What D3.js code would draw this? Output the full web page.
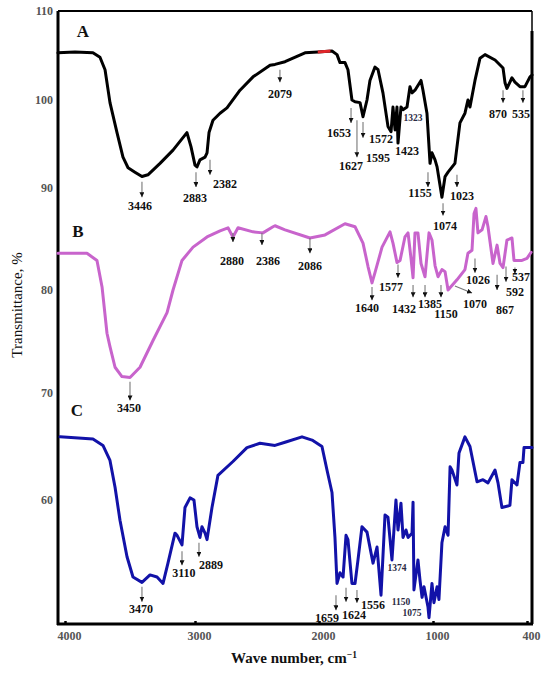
<!DOCTYPE html>
<html>
<head>
  <meta charset="utf-8">
  <title>FTIR spectra A, B, C</title>
  <script src="https://cdn.jsdelivr.net/npm/d3@7"></script>
  <style>
    body { margin: 0; background: #fff; }
    svg { font-family: "Liberation Serif", "Times New Roman", serif; }
  </style>
</head>
<body>
<div id="chart"></div>
<script>
  // spectra: [wave number, transmittance]
  const spectrumA = [[4054,105.3],[3923,105.4],[3785,105.3],[3731,104.8],[3692,103.4],[3654,99.7],[3600,96.3],[3554,93.5],[3515,92.3],[3462,91.8],[3408,91.3],[3362,91.5],[3269,92.8],[3169,94.3],[3062,96.3],[3031,94.7],[3000,92.6],[2984,92.4],[2960,93.2],[2919,93.5],[2903,94.0],[2887,96.3],[2855,97.7],[2798,98.5],[2742,99.1],[2637,101.1],[2532,102.6],[2395,103.9],[2355,104.0],[2274,104.3],[2113,105.3],[2008,105.4],[1886,105.5],[1842,105.1],[1816,104.2],[1772,104.2],[1746,103.4],[1711,100.0],[1684,99.8],[1640,99.7],[1614,98.1],[1579,100.0],[1553,102.2],[1509,103.7],[1482,103.4],[1439,100.8],[1395,97.0],[1368,96.4],[1351,99.2],[1333,96.6],[1316,99.2],[1307,95.1],[1281,99.2],[1263,98.9],[1228,99.2],[1202,101.5],[1184,100.8],[1158,101.1],[1105,102.2],[1088,101.1],[1053,98.5],[1026,92.8],[1009,94.0],[987,93.2],[974,92.4],[943,89.1],[923,91.3],[904,91.8],[860,92.8],[828,97.4],[796,98.5],[777,100.0],[764,99.2],[732,102.2],[700,104.7],[668,105.1],[604,104.5],[553,103.6],[540,101.9],[528,101.3],[496,102.5],[477,102.0],[445,101.5],[413,101.5],[381,102.6],[368,102.8]]

  const spectrumB = [[4054,83.6],[3831,83.6],[3754,82.9],[3715,80.3],[3677,75.8],[3654,74.5],[3615,72.5],[3562,71.6],[3500,71.5],[3423,72.5],[3323,75.1],[3215,77.8],[3169,80.0],[3100,82.9],[3015,84.2],[2903,85.2],[2798,85.8],[2734,86.1],[2694,85.2],[2653,86.1],[2532,85.7],[2452,85.6],[2371,86.2],[2355,86.3],[2274,85.9],[2073,85.1],[1947,85.4],[1772,86.5],[1684,86.2],[1614,84.6],[1570,82.3],[1535,80.7],[1509,81.7],[1447,84.2],[1377,85.7],[1351,84.6],[1316,82.7],[1289,82.9],[1246,85.2],[1219,85.6],[1193,83.1],[1175,81.2],[1158,85.6],[1132,85.6],[1105,82.6],[1070,81.3],[1035,85.6],[1009,84.9],[987,82.4],[968,81.3],[943,82.0],[923,81.8],[904,80.0],[847,81.0],[796,82.0],[777,83.6],[751,83.9],[738,87.5],[726,88.0],[713,85.6],[687,85.9],[662,87.2],[649,86.2],[617,82.6],[591,84.4],[572,82.6],[553,82.2],[528,84.9],[496,85.1],[483,82.9],[432,82.9],[400,83.1],[374,83.7]]

  const spectrumC = [[4038,65.9],[3785,65.7],[3708,65.1],[3654,63.7],[3615,61.2],[3577,58.1],[3523,54.7],[3477,52.8],[3408,52.3],[3346,53.0],[3292,52.8],[3246,52.2],[3208,54.1],[3154,56.9],[3138,56.7],[3100,55.8],[3077,59.3],[3038,60.2],[3008,60.0],[2984,57.5],[2960,56.5],[2944,57.5],[2919,56.9],[2903,56.3],[2863,59.3],[2815,62.3],[2694,63.6],[2581,64.9],[2476,65.3],[2355,65.1],[2274,65.4],[2137,65.9],[2056,65.6],[1974,65.0],[1930,62.8],[1886,60.7],[1860,56.5],[1842,52.2],[1816,53.2],[1789,52.8],[1763,56.7],[1746,56.3],[1711,52.2],[1684,52.2],[1658,54.4],[1623,57.5],[1579,57.0],[1526,54.1],[1491,55.6],[1456,51.1],[1421,58.6],[1395,58.4],[1360,54.4],[1325,60.0],[1307,57.2],[1281,59.7],[1263,56.5],[1237,57.2],[1219,56.5],[1184,56.9],[1175,59.8],[1167,51.6],[1132,54.4],[1114,52.5],[1096,50.9],[1079,51.9],[1044,50.0],[1035,49.0],[1009,52.2],[994,50.4],[974,51.9],[962,50.7],[943,56.0],[923,57.5],[904,56.7],[891,63.1],[879,62.8],[847,61.4],[834,64.4],[796,65.9],[764,65.0],[719,61.7],[681,61.9],[649,61.6],[604,62.8],[585,61.6],[560,59.3],[509,59.5],[496,61.9],[464,61.4],[445,63.5],[426,63.5],[419,64.9],[368,64.9]]

  // peak labels: arrow from (w, t0) to (w1 or w, t1), text at (lw, lt)
  const peaksA = [
    {text:"3446", w:3408, t0:90.7, t1:89.1, lw:3423, lt:87.8},
    {text:"2883", w:2992, t0:91.8, t1:90.1, lw:3000, lt:88.6},
    {text:"2382", w:2879, t0:93.2, t1:91.5, lw:2758, lt:90.0},
    {text:"2079", w:2315, t0:103.4, t1:102.0, lw:2315, lt:100.2},
    {text:"1653", w:1719, t0:99.1, t1:97.4, lw:1825, lt:95.8},
    {text:"1627", w:1667, t0:97.7, t1:93.5, lw:1719, lt:92.0},
    {text:"1595", w:1614, t0:97.5, t1:95.7, lw:1482, lt:93.0},
    {text:"1572", lw:1456, lt:95.1},
    {text:"1423", lw:1228, lt:93.75},
    {text:"1323", lw:1175, lt:97.6, small:true},
    {text:"1155", w:1044, t0:91.8, t1:90.1, lw:1114, lt:89.1},
    {text:"1023", w:847, t0:91.5, t1:90.1, lw:815, lt:88.8},
    {text:"1074", w:936, t0:88.5, t1:87.3, lw:923, lt:85.9},
    {text:"870", w:553, t0:101.1, t1:99.7, lw:585, lt:97.95},
    {text:"535", w:426, t0:101.1, t1:99.7, lw:438, lt:97.95}
  ]

  const peaksB = [
    {text:"3450", w:3500, t0:71.1, t1:69.3, lw:3508, lt:68.2},
    {text:"2880", w:2694, t0:85.6, t1:84.7, lw:2702, lt:82.5},
    {text:"2386", w:2460, t0:85.6, t1:84.4, lw:2411, lt:82.5},
    {text:"2086", w:2073, t0:85.1, t1:83.6, lw:2073, lt:82.0},
    {text:"1640", w:1535, t0:80.3, t1:79.0, lw:1579, lt:77.9},
    {text:"1577", w:1307, t0:82.5, t1:81.2, lw:1368, lt:79.9},
    {text:"1432", w:1175, t0:80.5, t1:79.3, lw:1254, lt:77.8},
    {text:"1385", w:1070, t0:80.5, t1:79.3, lw:1026, lt:78.3},
    {text:"1150", w:949, t0:80.5, t1:79.3, lw:917, lt:77.3},
    {text:"1070", w:860, w1:751, t0:80.4, t1:79.7, lw:732, lt:78.3},
    {text:"1026", w:732, t0:83.1, t1:81.7, lw:713, lt:80.6},
    {text:"867", w:591, t0:81.5, t1:80.0, lw:540, lt:77.7},
    {text:"592", w:534, t0:82.3, t1:80.8, lw:477, lt:79.4},
    {text:"537", w:477, t0:82.2, t1:81.6, lw:438, lt:80.9}
  ]

  const peaksC = [
    {text:"3470", w:3408, t0:51.9, t1:50.5, lw:3415, lt:49.4},
    {text:"3110", w:3100, t0:55.2, t1:53.9, lw:3085, lt:52.8},
    {text:"2889", w:2968, t0:56.0, t1:54.7, lw:2871, lt:53.55},
    {text:"1659", w:1851, t0:51.1, t1:49.7, lw:1930, lt:48.6},
    {text:"1624", w:1763, t0:51.8, t1:50.5, lw:1693, lt:48.9},
    {text:"1556", w:1667, t0:51.6, t1:50.4, lw:1526, lt:49.8},
    {text:"1374", lw:1316, lt:53.4, small:true},
    {text:"1150", lw:1281, lt:50.2, small:true},
    {text:"1075", lw:1184, lt:49.2, small:true}
  ]

  const panelNames = [["A", 3862, 107.1], ["B", 3900, 85.2], ["C", 3908, 67.85]]
  const xTicks = [4000, 3000, 2000, 1000, 400]
  const yTicks = [110, 100, 90, 80, 70, 60]

  const width = 550
  const height = 673
  const plotLeft = 58, plotRight = 532, plotTop = 11, plotBottom = 624

  // the printed axes are not evenly spaced, so both scales are piecewise
  const x = d3.scaleLinear()
    .domain([4000, 3000, 2000, 1000, 400])
    .range([65, 195, 319, 433, 527])
  const y = d3.scaleLinear()
    .domain([110, 100, 90, 80, 70, 60, 50])
    .range([11, 100, 188, 290, 393, 500, 607])

  const svg = d3.select("#chart")
    .append("svg")
    .attr("width", width)
    .attr("height", height)

  svg.append("rect").attr("width", width).attr("height", height).attr("fill", "#fff")

  const defs = svg.append("defs")
  defs.append("marker")
    .attr("id", "head")
    .attr("viewBox", "0 0 10 10")
    .attr("refX", 10)
    .attr("refY", 5)
    .attr("markerWidth", 5)
    .attr("markerHeight", 5)
    .attr("markerUnits", "userSpaceOnUse")
    .attr("orient", "auto")
    .append("path")
    .attr("d", "M0,0 L10,5 L0,10 z")
    .attr("fill", "#111")

  defs.append("clipPath").attr("id", "redbit")
    .append("rect")
    .attr("x", x(2010)).attr("y", 0)
    .attr("width", x(1900) - x(2010)).attr("height", height)

  const line = d3.line()
    .x(d => x(d[0]))
    .y(d => y(d[1]))

  // frame
  const frame = svg.append("g").attr("stroke", "#000").attr("fill", "none")
  frame.append("line").attr("x1", plotLeft).attr("x2", plotRight).attr("y1", plotTop).attr("y2", plotTop).attr("stroke-width", 1.8)
  frame.append("line").attr("x1", plotRight).attr("x2", plotRight).attr("y1", plotTop).attr("y2", 31).attr("stroke-width", 1.5)
  frame.append("line").attr("x1", plotRight).attr("x2", plotRight).attr("y1", 31).attr("y2", plotBottom).attr("stroke-width", 3)
  frame.append("line").attr("x1", plotLeft).attr("x2", plotLeft).attr("y1", plotTop).attr("y2", plotBottom + 1).attr("stroke-width", 3)
  frame.append("line").attr("x1", plotLeft - 1).attr("x2", plotRight + 1).attr("y1", plotBottom).attr("y2", plotBottom).attr("stroke-width", 3)

  // axes
  const xAxis = svg.append("g")
    .attr("transform", `translate(0,${plotBottom})`)
    .call(d3.axisBottom(x).tickValues(xTicks).tickFormat(d3.format("d"))
      .tickSizeInner(-3).tickSizeOuter(0).tickPadding(7.5))
  xAxis.select(".domain").remove()
  xAxis.selectAll("line").attr("stroke", "#000").attr("stroke-width", 2.5)
  xAxis.selectAll("text")
    .attr("dx", 4)
    .attr("fill", "#555")
    .attr("font-size", 12)
    .attr("font-weight", "bold")
    .attr("font-family", "Liberation Serif, serif")

  const yAxis = svg.append("g")
    .attr("transform", `translate(${plotLeft},0)`)
    .call(d3.axisLeft(y).tickValues(yTicks).tickSize(0).tickPadding(5))
  yAxis.select(".domain").remove()
  yAxis.selectAll("text")
    .attr("fill", "#555")
    .attr("font-size", 12)
    .attr("font-weight", "bold")
    .attr("font-family", "Liberation Serif, serif")

  // spectra
  const curves = [
    [spectrumA, "#000000"],
    [spectrumB, "#c864cc"],
    [spectrumC, "#1212a8"]
  ]
  curves.forEach(([data, color]) => {
    svg.append("path")
      .datum(data)
      .attr("d", line)
      .attr("fill", "none")
      .attr("stroke", color)
      .attr("stroke-width", 3)
      .attr("stroke-linejoin", "round")
      .attr("stroke-linecap", "round")
  })
  // small red stretch on the top of A
  svg.append("path")
    .datum(spectrumA)
    .attr("d", line)
    .attr("clip-path", "url(#redbit)")
    .attr("fill", "none")
    .attr("stroke", "#e0262a")
    .attr("stroke-width", 3)

  // peak arrows and labels
  function drawPeaks (peaks) {
    const g = svg.append("g")
    peaks.filter(p => p.w !== undefined).forEach(p => {
      g.append("line")
        .attr("x1", x(p.w))
        .attr("y1", y(p.t0))
        .attr("x2", x(p.w1 !== undefined ? p.w1 : p.w))
        .attr("y2", y(p.t1))
        .attr("stroke", "#777")
        .attr("stroke-width", 1.1)
        .attr("marker-end", "url(#head)")
    })
    g.selectAll("text")
      .data(peaks)
      .enter()
      .append("text")
      .attr("x", d => x(d.lw))
      .attr("y", d => y(d.lt))
      .attr("text-anchor", "middle")
      .attr("font-size", d => d.small ? 9.5 : 12)
      .attr("font-weight", "bold")
      .attr("fill", d => d.small ? "#2a2a44" : "#111")
      .text(d => d.text)
  }
  drawPeaks(peaksA)
  drawPeaks(peaksB)
  drawPeaks(peaksC)

  svg.append("g")
    .selectAll("text")
    .data(panelNames)
    .enter()
    .append("text")
    .attr("x", d => x(d[1]))
    .attr("y", d => y(d[2]))
    .attr("text-anchor", "middle")
    .attr("font-size", 17)
    .attr("font-weight", "bold")
    .attr("fill", "#111")
    .text(d => d[0])

  // axis titles
  svg.append("text")
    .attr("transform", "translate(22,305) rotate(-90)")
    .attr("text-anchor", "middle")
    .attr("font-size", 15)
    .attr("fill", "#111")
    .text("Transmittance, %")

  const xt = svg.append("text")
    .attr("x", 294)
    .attr("y", 663)
    .attr("text-anchor", "middle")
    .attr("font-size", 15)
    .attr("font-weight", "bold")
    .attr("fill", "#111")
  xt.append("tspan").text("Wave number, cm")
  xt.append("tspan").attr("dy", -5).attr("font-size", 9.5).text("\u22121")
</script>
</body>
</html>
